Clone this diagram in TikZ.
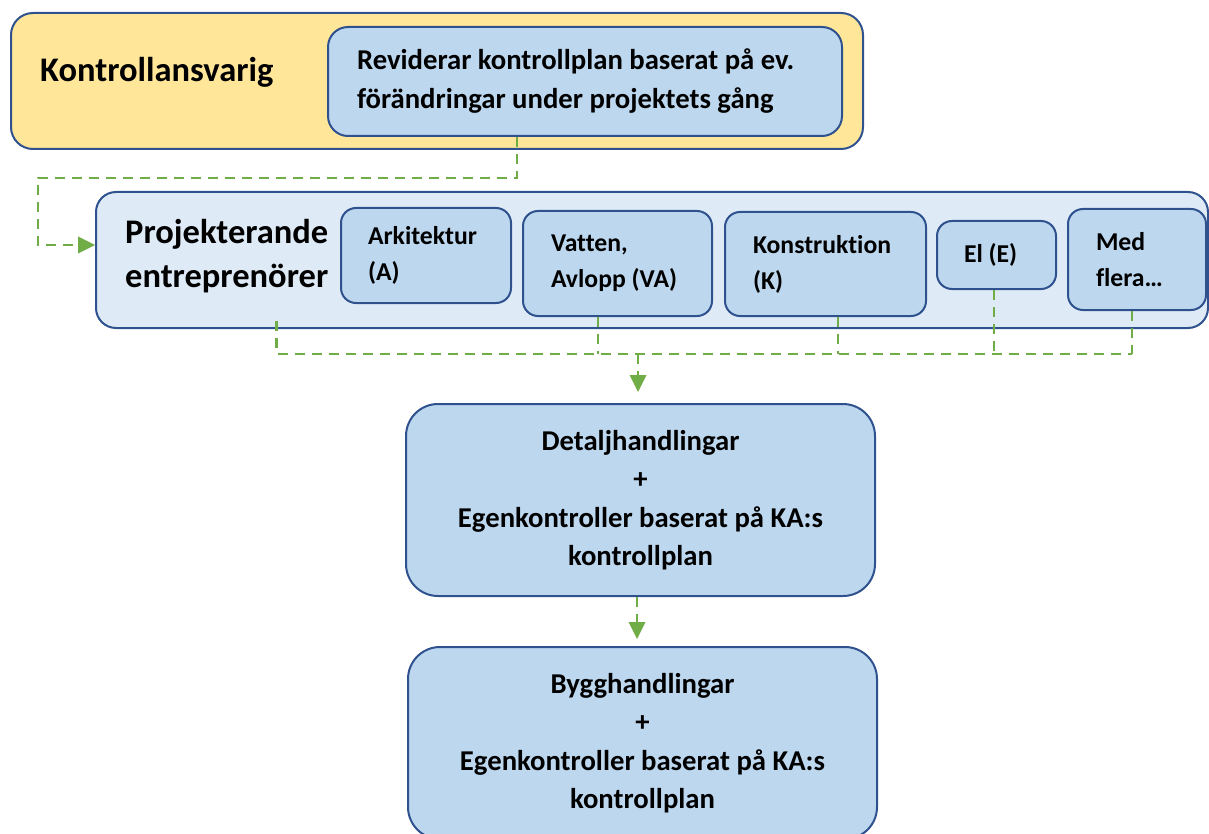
\documentclass[tikz,border=0pt]{standalone}
\usepackage{fontspec}
\setmainfont{Carlito}[Ligatures=NoCommon]
\usetikzlibrary{arrows.meta}
\definecolor{kaYellow}{HTML}{FFE699}
\definecolor{paleBlue}{HTML}{DEEBF7}
\definecolor{midBlue}{HTML}{BDD7EE}
\definecolor{edgeBlue}{HTML}{2F528F}
\definecolor{flowGreen}{HTML}{70AD47}
\begin{document}
\begin{tikzpicture}[x=1pt,y=-1pt,
  box/.style={draw=edgeBlue, line width=2pt, rounded corners=#1, inner sep=0pt},
  box/.default=18pt,
  natural spaces/.style={execute at begin node={\spaceskip=0pt\xspaceskip=0pt}},
  subbox/.style={box=15pt, fill=midBlue, align=left, natural spaces, inner ysep=0pt,
    font=\fontsize{25.7}{36}\selectfont\bfseries},
  bigbox/.style={box=32pt, fill=midBlue, align=center, minimum width=469pt, minimum height=192pt,
    font=\fontsize{28.7}{38.5}\selectfont\bfseries},
  conn/.style={draw=flowGreen, line width=2.7pt, dash pattern=on 10pt off 7pt}
]
\useasboundingbox (0,0) rectangle (1209,834);

% Kontrollansvarig row
\node[box=22pt, fill=kaYellow, minimum width=852pt, minimum height=136pt] (ka) at (437,81) {};
\node[anchor=west, inner sep=0pt, font=\fontsize{34.5}{44}\selectfont\bfseries] (katitle) at (40,72) {Kontrollansvarig};
\node[box=20pt, fill=midBlue, minimum width=514pt, minimum height=109pt, inner xsep=29pt,
      text width=456pt, align=left, natural spaces, font=\fontsize{28.7}{39}\selectfont\bfseries] (rev) at (585,81.5)
  {Reviderar kontrollplan baserat på ev.\\förändringar under projektets gång};

% Projekterande entreprenörer row
\node[box=20pt, fill=paleBlue, minimum width=1112pt, minimum height=136pt] (proj) at (652,260) {};
\node[anchor=west, inner sep=0pt, align=left, font=\fontsize{34.5}{44}\selectfont\bfseries] (pe) at (125,256)
  {Projekterande\\entreprenörer};
\node[subbox, minimum width=170pt, minimum height=95pt, inner xsep=27pt, text width=116pt] (ark) at (426,255.5)
  {Arkitektur\\(A)};
\node[subbox, minimum width=189pt, minimum height=105pt, inner xsep=28pt, text width=133pt] (va) at (617.5,263.5)
  {Vatten,\\Avlopp (VA)};
\node[subbox, minimum width=201pt, minimum height=104pt, inner xsep=28pt, text width=145pt] (kon) at (825.5,264)
  {Konstruktion\\(K)};
\node[subbox, minimum width=119pt, minimum height=68pt, inner xsep=27pt, text width=65pt] (el) at (996.5,255)
  {El (E)};
\node[subbox, minimum width=138pt, minimum height=101pt, inner xsep=28pt, text width=82pt] (med) at (1137,259.5)
  {Med\\flera…};

% Documents
\node[bigbox] (detalj) at (640.5,500)
  {Detaljhandlingar\\+\\Egenkontroller baserat på KA:s\\kontrollplan};
\node[bigbox] (bygg) at (642.5,743)
  {Bygghandlingar\\+\\Egenkontroller baserat på KA:s\\kontrollplan};

% Connectors
\coordinate (loop) at (38,178);
\coordinate (bus) at (638,354);
\draw[conn] ([xshift=-68pt]rev.south) |- (loop) |- ([yshift=15pt]proj.west);
\fill[flowGreen] ([yshift=15pt]proj.west) -- ++(-17,-8.5) -- ++(0,17) -- cycle;

\draw[conn] ([xshift=50pt,yshift=-28pt]pe.south) |- ([xshift=-5pt]med.south |- bus);
\draw[conn] ([xshift=-19.5pt]va.south) -- ([xshift=-19.5pt]va.south |- bus);
\draw[conn] ([xshift=12.5pt]kon.south) -- ([xshift=12.5pt]kon.south |- bus);
\draw[conn] ([xshift=-2.5pt]el.south) -- ([xshift=-2.5pt]el.south |- bus);
\draw[conn] ([xshift=-5pt]med.south) -- ([xshift=-5pt]med.south |- bus);

\draw[conn] (bus) -- ([yshift=27pt]bus |- detalj.north);
\fill[flowGreen] ([yshift=11pt]bus |- detalj.north) -- ++(-8.5,-17) -- ++(17,0) -- cycle;

\draw[conn] ([xshift=-3.5pt]detalj.south) -- ([xshift=-3.5pt,yshift=23pt]detalj.south |- bygg.north);
\fill[flowGreen] ([xshift=-3.5pt,yshift=7pt]detalj.south |- bygg.north) -- ++(-8.5,-17) -- ++(17,0) -- cycle;
\end{tikzpicture}
\end{document}
